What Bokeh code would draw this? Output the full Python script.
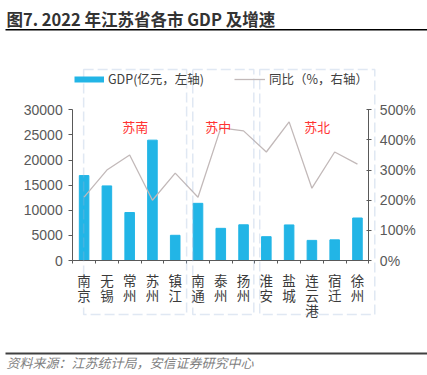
from bokeh.plotting import figure
from bokeh.models import (Range1d, LinearAxis, NumeralTickFormatter, FixedTicker,
                          Legend, LegendItem, Label, BoxAnnotation, ColumnDataSource)
from bokeh.embed import file_html
from bokeh.resources import INLINE

# ---- data ----
cities = ["南京", "无锡", "常州", "苏州", "镇江", "南通", "泰州", "扬州",
          "淮安", "盐城", "连云港", "宿迁", "徐州"]
gdp = [16908, 14851, 9550, 23958, 5017, 11380, 6402, 7105, 4742, 7080, 4005, 4112, 8458]
growth = [2.1, 3.0, 3.5, 2.0, 2.9, 2.1, 4.4, 4.3, 3.6, 4.6, 2.4, 3.6, 3.2]
groups = ["苏南", "苏中", "苏北"]
group_sizes = [5, 3, 5]
left_ticks = [0, 5000, 10000, 15000, 20000, 25000, 30000]
right_ticks = [0, 1, 2, 3, 4, 5]

# ---- style / layout constants (canvas pixels) ----
W, H = 427, 375
X0_PX, STEP_PX = 83.6, 22.78          # pixel of first category centre, px per category
Y0_PX, YTOP_PX = 260.0, 109.3         # pixel of value 0 and of axis top
FONT_CJK = "Noto Sans CJK SC"
FONT_NUM = "Liberation Sans"
BAR = "#22b5e6"
LINE = "#c2b9b9"
BOXC = "#97b2d6"
AXC = "#595959"

n = len(cities)
idx = list(range(n))
src = ColumnDataSource(dict(x=idx, gdp=gdp, growth=growth))

x_start = (0 - X0_PX) / STEP_PX
x_end = (W - X0_PX) / STEP_PX
lmax, rmax = left_ticks[-1], right_ticks[-1]
px_per = (Y0_PX - YTOP_PX)
y_start = -(H - Y0_PX) / px_per * lmax
y_end = lmax + YTOP_PX / px_per * lmax
r_start = -(H - Y0_PX) / px_per * rmax
r_end = rmax + YTOP_PX / px_per * rmax

p = figure(width=W, height=H, title=None,
           x_range=Range1d(x_start, x_end), y_range=Range1d(y_start, y_end),
           x_axis_location=None, y_axis_location=None,
           output_backend="svg", toolbar_location=None)
p.min_border = 0
p.min_border_left = 0
p.min_border_right = 0
p.min_border_top = 0
p.min_border_bottom = 0
p.outline_line_color = None
p.xgrid.grid_line_color = None
p.ygrid.grid_line_color = None
p.background_fill_color = "white"
p.border_fill_color = "white"

bars = p.vbar(x="x", top="gdp", width=0.42, source=src, color=BAR)
p.extra_y_ranges = {"r": Range1d(r_start, r_end)}
ln = p.line(x="x", y="growth", source=src, y_range_name="r", line_color=LINE, line_width=1.3)
# hidden renderer used only to draw the thick legend swatch for the bars
bar_key = p.line(x="x", y="gdp", source=src, line_color=BAR, line_width=6, visible=False)

# ---- axes (fixed inside the frame) ----
ya = LinearAxis(ticker=FixedTicker(ticks=left_ticks), fixed_location=-0.5, bounds=(0, lmax))
ya.axis_line_color = AXC
ya.major_tick_line_color = AXC
ya.major_tick_out = 4
ya.major_tick_in = 0
ya.minor_tick_line_color = None
ya.major_label_text_font = FONT_NUM
ya.major_label_text_font_size = "14px"
ya.major_label_text_color = AXC
ya.major_label_standoff = 6
p.add_layout(ya, "left")

ra = LinearAxis(y_range_name="r", ticker=FixedTicker(ticks=right_ticks),
                formatter=NumeralTickFormatter(format="0%"),
                fixed_location=n - 0.5, bounds=(0, rmax))
ra.axis_line_color = AXC
ra.major_tick_line_color = AXC
ra.major_tick_out = 3
ra.major_tick_in = 2
ra.minor_tick_line_color = None
ra.major_label_text_font = FONT_NUM
ra.major_label_text_font_size = "14px"
ra.major_label_text_color = AXC
ra.major_label_standoff = 8
p.add_layout(ra, "right")

# bottom axis line with boundary ticks
xa = LinearAxis(ticker=FixedTicker(ticks=[i - 0.5 for i in range(n + 1)]),
                fixed_location=0, bounds=(-0.5, n - 0.5))
xa.axis_line_color = AXC
xa.major_tick_line_color = AXC
xa.major_tick_out = 3
xa.major_tick_in = 0
xa.minor_tick_line_color = None
xa.major_label_text_color = None
p.add_layout(xa, "below")

# stacked character label axes (vertical CJK labels)
maxlen = max(len(c) for c in cities)
for k in range(maxlen):
    ax = LinearAxis(ticker=FixedTicker(ticks=idx), fixed_location=0)
    ax.major_label_overrides = {i: (c[k] if k < len(c) else "") for i, c in enumerate(cities)}
    ax.axis_line_color = None
    ax.major_tick_line_color = None
    ax.minor_tick_line_color = None
    ax.major_tick_out = 0
    ax.major_label_standoff = 9 + 15 * k
    ax.major_label_text_font = FONT_CJK
    ax.major_label_text_font_size = "13.5px"
    ax.major_label_text_color = "#3a3a3a"
    p.add_layout(ax, "below")

# ---- legends ----
def mk_legend(label, r, x, y, gw):
    lg = Legend(items=[LegendItem(label=label, renderers=[r])], location=(x, y),
                orientation="horizontal", padding=0, margin=0, spacing=0,
                border_line_color=None, background_fill_alpha=0,
                inactive_fill_alpha=0,
                glyph_width=gw, glyph_height=16, label_height=16, label_standoff=4,
                label_text_font=FONT_CJK, label_text_font_size="12.5px",
                label_text_color="#404040")
    p.add_layout(lg, "center")

mk_legend("GDP(亿元，左轴)", bar_key, 74, H - 88, 30)
mk_legend("同比（%，右轴）", ln, 234, H - 88, 31)

# ---- region boxes ----
box_pad_l = [-0.02, -0.23, -0.29]
box_pad_r = [0.5, 0.45, 0.76]
label_shift = [0.0, -0.22, 0.0]
start = 0
for g, m, pl, pr, sh in zip(groups, group_sizes, box_pad_l, box_pad_r, label_shift):
    left = start + pl
    right = start + m - 1 + pr
    p.add_layout(BoxAnnotation(left=left, right=right, top=69, bottom=314,
                               left_units="data", right_units="data",
                               top_units="canvas", bottom_units="canvas",
                               fill_alpha=0, line_color=BOXC, line_width=1.5,
                               line_dash="10 4"))
    p.add_layout(Label(x=(left + right) / 2 + sh, y=26700, text=g, text_align="center",
                       text_baseline="middle", text_color="#ff3333",
                       text_font=FONT_CJK, text_font_size="13px"))
    start += m

# ---- title, rules, footer ----
p.add_layout(Label(x=6, y=18.5, x_units="canvas", y_units="canvas",
                   text="图7. 2022 年江苏省各市 GDP 及增速", text_font=FONT_CJK,
                   text_font_style="bold", text_font_size="16.5px", text_color="#333333",
                   text_baseline="middle"))
p.add_layout(BoxAnnotation(left=5, right=W, top=28.5, bottom=30,
                           left_units="canvas", right_units="canvas",
                           top_units="canvas", bottom_units="canvas",
                           fill_color="black", fill_alpha=1, line_color=None))
p.add_layout(BoxAnnotation(left=5, right=W, top=352, bottom=354,
                           left_units="canvas", right_units="canvas",
                           top_units="canvas", bottom_units="canvas",
                           fill_color="#404040", fill_alpha=1, line_color=None))
p.add_layout(Label(x=6, y=362, x_units="canvas", y_units="canvas",
                   text="资料来源：江苏统计局，安信证券研究中心", text_font=FONT_CJK,
                   text_font_style="italic", text_font_size="13px", text_color="#7f7f7f",
                   text_baseline="middle"))

open("out.html", "w").write(file_html(p, INLINE))
